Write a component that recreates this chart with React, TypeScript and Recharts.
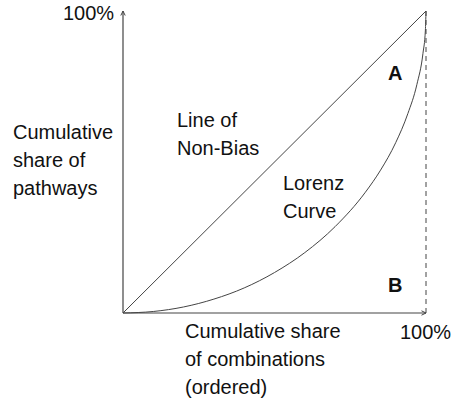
import React from "react";
import { LineChart, Line, XAxis, YAxis, ReferenceLine } from "recharts";

// cumulative share of combinations (ordered) vs cumulative share of pathways
const SHARE_X = [0, 0.1, 0.2, 0.3, 0.4, 0.5, 0.6, 0.7, 0.8, 0.85, 0.9, 0.94, 0.97, 0.99, 0.998, 1];
const LORENZ_Y = [0, 0.005, 0.02, 0.046, 0.083, 0.134, 0.2, 0.286, 0.4, 0.473, 0.564, 0.66, 0.757, 0.86, 0.937, 1];
const EQUALITY_X = [0, 1];
const EQUALITY_Y = [0, 1];

const lorenzData = SHARE_X.map((x, i) => ({ x, y: LORENZ_Y[i] }));
const equalityData = EQUALITY_X.map((x, i) => ({ x, y: EQUALITY_Y[i] }));

const INK = "#444";
const FONT = "'Liberation Sans', Arial, Helvetica, sans-serif";

function ArrowLine(props: any) {
  const { x1, y1, x2, y2 } = props;
  const ang = Math.atan2(y2 - y1, x2 - x1);
  const len = 5;
  const spread = 0.45;
  const ax = x2 - len * Math.cos(ang - spread);
  const ay = y2 - len * Math.sin(ang - spread);
  const bx = x2 - len * Math.cos(ang + spread);
  const by = y2 - len * Math.sin(ang + spread);
  return (
    <g>
      <line x1={x1} y1={y1} x2={x2} y2={y2} stroke={INK} strokeWidth={1.2} />
      <path d={`M${ax},${ay} L${x2},${y2} L${bx},${by}`} fill="none" stroke={INK} strokeWidth={1} />
    </g>
  );
}

const label = (left: number, top: number, extra: React.CSSProperties = {}) => ({
  position: "absolute" as const,
  left,
  top,
  fontSize: 20,
  lineHeight: "28px",
  color: "#111",
  whiteSpace: "nowrap" as const,
  ...extra,
});

export default function App() {
  return (
    <div style={{ position: "absolute", left: 0, top: 0, width: 452, height: 402, background: "#fff", fontFamily: FONT }}>
      <LineChart width={452} height={402} margin={{ top: 11, right: 26, bottom: 89, left: 123 }}>
        <XAxis type="number" dataKey="x" domain={[0, 1]} hide />
        <YAxis type="number" dataKey="y" domain={[0, 1]} hide />
        <ReferenceLine segment={[{ x: 1, y: 0 }, { x: 1, y: 1 }]} stroke={INK} strokeDasharray="5 4" />
        <ReferenceLine segment={[{ x: 0, y: 0 }, { x: 0, y: 1 }]} shape={ArrowLine} />
        <ReferenceLine segment={[{ x: 0, y: 0 }, { x: 1, y: 0 }]} shape={ArrowLine} />
        <Line data={equalityData} dataKey="y" type="linear" stroke={INK} strokeWidth={1} dot={false} isAnimationActive={false} />
        <Line data={lorenzData} dataKey="y" type="monotone" stroke={INK} strokeWidth={1} dot={false} isAnimationActive={false} />
      </LineChart>

      <div style={label(63, -1)}>100%</div>
      <div style={label(13, 118)}>
        Cumulative
        <br />
        share of
        <br />
        pathways
      </div>
      <div style={label(177, 106)}>
        Line of
        <br />
        Non-Bias
      </div>
      <div style={label(283, 169)}>
        Lorenz
        <br />
        Curve
      </div>
      <div style={label(388, 59, { fontWeight: "bold" })}>A</div>
      <div style={label(388, 271, { fontWeight: "bold" })}>B</div>
      <div style={label(185, 317)}>
        Cumulative share
        <br />
        of combinations
        <br />
        (ordered)
      </div>
      <div style={label(400, 318)}>100%</div>
    </div>
  );
}
